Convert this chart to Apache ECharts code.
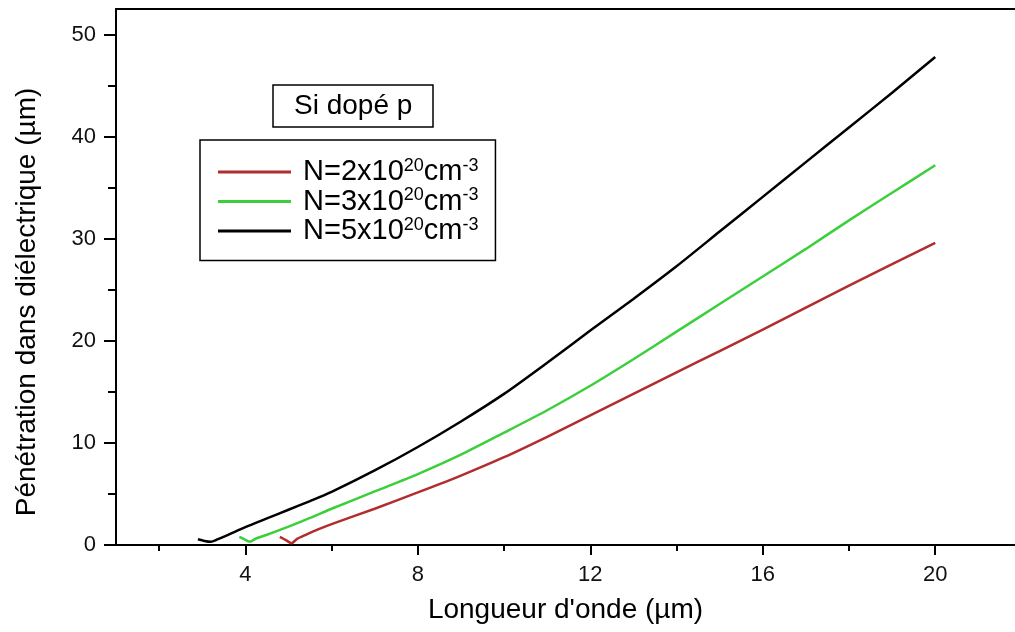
<!DOCTYPE html>
<html>
<head>
<meta charset="utf-8">
<script src="https://cdn.jsdelivr.net/npm/echarts@6/dist/echarts.min.js"></script>
<style>
  html, body { margin: 0; padding: 0; background: #fff; }
  #chart { width: 1015px; height: 632px; }
</style>
</head>
<body>
<div id="chart"></div>
<script>
// wavelength (µm) and penetration (µm)
var redX = [4.8, 4.95, 5.07, 5.2, 5.4, 5.7, 6, 7, 8, 9, 10, 11, 12, 13, 14, 15, 16, 17, 18, 19, 20];
var redY = [0.8, 0.45, 0.17, 0.6, 1.0, 1.55, 2.05, 3.55, 5.15, 6.8, 8.6, 10.6, 12.7, 14.8, 16.9, 19.0, 21.1, 23.25, 25.4, 27.5, 29.6];

var greenX = [3.86, 3.98, 4.1, 4.26, 4.5, 5, 5.5, 6, 7, 8, 9, 10, 11, 12, 13, 14, 15, 16, 17, 18, 19, 20];
var greenY = [0.8, 0.55, 0.32, 0.66, 1.0, 1.8, 2.65, 3.55, 5.25, 6.95, 8.85, 11.0, 13.2, 15.6, 18.2, 20.9, 23.6, 26.3, 29.0, 31.8, 34.5, 37.2];

var blackX = [2.9, 3.05, 3.2, 3.35, 3.6, 4, 4.5, 5, 5.5, 6, 7, 8, 9, 10, 11, 12, 13, 14, 15, 16, 17, 18, 19, 20];
var blackY = [0.56, 0.4, 0.32, 0.55, 1.0, 1.75, 2.6, 3.45, 4.3, 5.2, 7.3, 9.6, 12.1, 14.8, 17.85, 21.0, 24.1, 27.3, 30.7, 34.1, 37.5, 40.9, 44.3, 47.8];

var concentrations = ['2', '3', '5'];
var xMajorTicks = [4, 8, 12, 16, 20];
var xMinorTicks = [2, 6, 10, 14, 18];
var yMajorTicks = [0, 10, 20, 30, 40, 50];
var yMinorTicks = [5, 15, 25, 35, 45];

function pairs(xs, ys) {
  return xs.map(function (x, i) { return [x, ys[i]]; });
}

var FONT = '"Liberation Sans", Arial, sans-serif';
var names = concentrations.map(function (c) { return 'N=' + c + 'x10^20cm^-3'; });

var myEcharts = echarts.init(document.getElementById('chart'));
myEcharts.setOption({
  animation: false,
  title: {
    text: 'Si dopé p',
    left: 273,
    top: 85,
    padding: [6, 21, 6, 21],
    borderColor: '#000',
    borderWidth: 1.5,
    textStyle: { fontFamily: FONT, fontSize: 28, fontWeight: 'normal', color: '#000', lineHeight: 30 }
  },
  legend: {
    orient: 'vertical',
    left: 200,
    top: 140,
    padding: [17, 17, 15, 18],
    itemGap: 0,
    itemWidth: 73,
    itemHeight: 3,
    icon: 'rect',
    borderColor: '#000',
    borderWidth: 1.5,
    data: names,
    formatter: function (name) {
      var c = name.charAt(2);
      return '{g|}{b|N=' + c + 'x10}{s|20}{b|cm}{s|-3}';
    },
    textStyle: {
      fontFamily: FONT,
      color: '#000',
      rich: {
        g: { width: 7 },
        b: { fontFamily: FONT, fontSize: 29, lineHeight: 30, color: '#000' },
        s: { fontFamily: FONT, fontSize: 18, lineHeight: 17, verticalAlign: 'top', color: '#000' }
      }
    }
  },
  grid: { left: 116, right: 0, top: 9, bottom: 87 },
  xAxis: [{
    type: 'value',
    min: 1,
    max: 21.85,
    position: 'bottom',
    name: 'Longueur d\'onde (µm)',
    nameLocation: 'middle',
    nameGap: 51,
    nameTextStyle: { fontFamily: FONT, fontSize: 28, color: '#000' },
    axisLine: { show: true, lineStyle: { color: '#000', width: 2 } },
    axisTick: { show: true, customValues: xMajorTicks, length: 10, lineStyle: { color: '#000', width: 2 } },
    axisLabel: { customValues: xMajorTicks, fontFamily: FONT, fontSize: 22, color: '#111', margin: 19 },
    splitLine: { show: false }
  }, {
    type: 'value',
    min: 1,
    max: 21.85,
    position: 'bottom',
    axisLine: { show: false },
    axisTick: { show: true, customValues: xMinorTicks, length: 6, lineStyle: { color: '#000', width: 2 } },
    axisLabel: { show: false },
    splitLine: { show: false }
  }, {
    type: 'value',
    min: 1,
    max: 21.85,
    position: 'top',
    axisLine: { show: true, lineStyle: { color: '#000', width: 2 } },
    axisTick: { show: false },
    axisLabel: { show: false },
    splitLine: { show: false }
  }],
  yAxis: [{
    type: 'value',
    min: 0,
    max: 52.5,
    position: 'left',
    axisLine: { show: true, lineStyle: { color: '#000', width: 2 } },
    axisTick: { show: true, customValues: yMajorTicks, length: 12, lineStyle: { color: '#000', width: 2 } },
    axisLabel: { customValues: yMajorTicks, fontFamily: FONT, fontSize: 22, color: '#111', margin: 20 },
    splitLine: { show: false }
  }, {
    type: 'value',
    min: 0,
    max: 52.5,
    position: 'left',
    axisLine: { show: false },
    axisTick: { show: true, customValues: yMinorTicks, length: 8, lineStyle: { color: '#000', width: 2 } },
    axisLabel: { show: false },
    splitLine: { show: false }
  }],
  graphic: [{
    type: 'text',
    x: 27,
    y: 302,
    rotation: Math.PI / 2,
    style: {
      text: 'Pénétration dans diélectrique (µm)',
      font: '28px ' + FONT,
      fill: '#000',
      textAlign: 'center',
      textVerticalAlign: 'middle'
    }
  }],
  series: [{
    name: names[0],
    type: 'line',
    data: pairs(redX, redY),
    symbol: 'none',
    smooth: 0.25,
    color: '#b22d2d',
    lineStyle: { width: 2.5, color: '#b22d2d' }
  }, {
    name: names[1],
    type: 'line',
    data: pairs(greenX, greenY),
    symbol: 'none',
    smooth: 0.25,
    color: '#3ccf3c',
    lineStyle: { width: 2.5, color: '#3ccf3c' }
  }, {
    name: names[2],
    type: 'line',
    data: pairs(blackX, blackY),
    symbol: 'none',
    smooth: 0.25,
    color: '#000',
    lineStyle: { width: 2.5, color: '#000' }
  }]
});
</script>
</body>
</html>
